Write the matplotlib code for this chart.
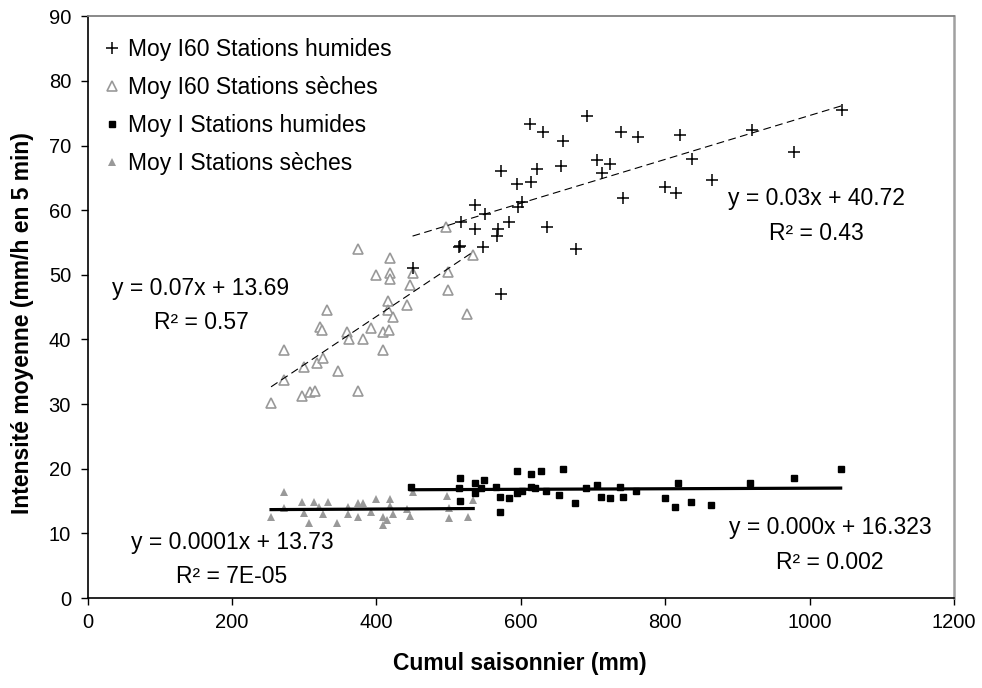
import numpy as np
import matplotlib
matplotlib.use("Agg")
import matplotlib.pyplot as plt

plt.rcParams['font.family'] = ['Liberation Sans', 'DejaVu Sans']

# ---- data (Cumul saisonnier mm, intensité mm/h) ----
i60_hum_x = [1045, 692, 613, 630, 659, 739, 762, 820, 920, 979, 572, 622, 655, 706, 724, 712,
             595, 614, 837, 865, 799, 815, 742, 601, 596, 537, 550, 517, 584, 537, 569, 567,
             636, 516, 514, 547, 677, 572, 450]
i60_hum_y = [75.5, 74.6, 73.3, 72.1, 70.7, 72.1, 71.3, 71.6, 72.4, 69.0, 66.1, 66.4, 66.9, 67.8, 67.2, 65.8,
             64.1, 64.4, 67.9, 64.7, 63.6, 62.7, 61.9, 61.3, 60.5, 60.8, 59.4, 58.2, 58.2, 57.1, 57.1, 56.0,
             57.4, 54.5, 54.3, 54.3, 54.0, 47.1, 51.1]

i60_sec_x = [375, 419, 400, 419, 419, 451, 447, 416, 442, 416, 423, 332, 322, 324, 359, 362, 382, 392,
             409, 418, 409, 272, 272, 300, 318, 326, 347, 297, 308, 315, 375, 254, 497, 534, 499, 499, 526]
i60_sec_y = [54.0, 52.6, 49.9, 50.3, 49.3, 50.3, 48.5, 46.0, 45.4, 44.5, 43.4, 44.6, 42.0, 41.5, 41.1, 40.1, 40.1, 41.8,
             41.1, 41.5, 38.4, 38.4, 33.8, 35.7, 36.4, 37.2, 35.1, 31.2, 31.8, 32.0, 32.0, 30.1, 57.4, 53.0, 50.5, 47.7, 44.0]

i_hum_x = [1043, 978, 918, 817, 658, 628, 614, 594, 549, 536, 516, 514, 516, 536, 545, 566, 571, 571, 584,
           595, 602, 614, 620, 635, 653, 675, 690, 706, 711, 723, 738, 741, 760, 799, 813, 836, 864, 448]
i_hum_y = [20.0, 18.6, 17.8, 17.8, 20.0, 19.7, 19.2, 19.7, 18.3, 17.8, 18.6, 17.0, 15.0, 16.3, 17.0, 17.2, 15.7, 13.3, 15.5,
           16.3, 16.6, 17.2, 17.0, 16.6, 16.0, 14.7, 17.0, 17.5, 15.7, 15.5, 17.2, 15.7, 16.6, 15.5, 14.1, 14.9, 14.4, 17.2]

i_sec_x = [254, 272, 272, 297, 300, 307, 314, 320, 326, 333, 346, 360, 360, 375, 375, 382, 392, 400, 409,
           409, 414, 419, 419, 423, 442, 447, 451, 498, 500, 500, 527, 534]
i_sec_y = [12.6, 16.4, 13.9, 14.9, 13.2, 11.6, 14.9, 14.1, 13.0, 14.9, 11.6, 14.1, 13.0, 14.7, 12.6, 14.7, 13.3, 15.3, 12.6,
           11.3, 12.1, 15.3, 14.3, 13.0, 13.8, 12.7, 16.4, 15.8, 13.9, 12.4, 12.6, 15.2]

labels = ["Moy I60 Stations humides", "Moy I60 Stations sèches",
          "Moy I Stations humides", "Moy I Stations sèches"]
equations = ["y = 0.07x + 13.69\nR² = 0.57", "y = 0.03x + 40.72\nR² = 0.43",
             "y = 0.0001x + 13.73\nR² = 7E-05", "y = 0.000x + 16.323\nR² = 0.002"]
xlabel = "Cumul saisonnier (mm)"
ylabel = "Intensité moyenne (mm/h en 5 min)"
xticks = [0, 200, 400, 600, 800, 1000, 1200]
yticks = [0, 10, 20, 30, 40, 50, 60, 70, 80, 90]

GREY = "#999999"

fig = plt.figure(figsize=(9.82, 6.88), dpi=100)
ax = fig.add_axes([0.0893, 0.1308, 0.8822, 0.8455])


def trend(x, y, **kw):
    x = np.asarray(x, float)
    y = np.asarray(y, float)
    a, b = np.polyfit(x, y, 1)
    xs = np.array([x.min(), x.max()])
    ax.plot(xs, a * xs + b, **kw)


ax.plot(i60_sec_x, i60_sec_y, linestyle='none', marker='^', markersize=7.8,
        markerfacecolor='white', markeredgecolor=GREY, markeredgewidth=1.2, label=labels[1], zorder=3)
ax.plot(i60_hum_x, i60_hum_y, linestyle='none', marker='+', markersize=9,
        color='black', markeredgewidth=1.1, label=labels[0], zorder=4)
ax.plot(i_hum_x, i_hum_y, linestyle='none', marker='s', markersize=4.6,
        color='black', label=labels[2], zorder=4)
ax.plot(i_sec_x, i_sec_y, linestyle='none', marker='^', markersize=6,
        color=GREY, markeredgewidth=0, label=labels[3], zorder=3)

trend(i60_sec_x, i60_sec_y, color='black', linewidth=0.8, dashes=(7, 4), zorder=5)
trend(i60_hum_x, i60_hum_y, color='black', linewidth=0.8, dashes=(7, 4), zorder=5)
trend(i_hum_x, i_hum_y, color='black', linewidth=2.3, zorder=5)
trend(i_sec_x, i_sec_y, color='black', linewidth=2.3, zorder=5)

ax.set_xlim(0, 1200)
ax.set_ylim(0, 90)
ax.set_xticks(xticks)
ax.set_yticks(yticks)
ax.tick_params(axis='both', direction='out', length=5, width=1, labelsize=14.5, color='black')
ax.tick_params(axis='x', pad=6)
ax.tick_params(axis='y', pad=7)

for s in ['left', 'bottom']:
    ax.spines[s].set_color('black')
    ax.spines[s].set_linewidth(1.2)
ax.spines['top'].set_color('#808080')
ax.spines['top'].set_linewidth(1.3)
ax.spines['right'].set_color('#a0a0a0')
ax.spines['right'].set_linewidth(1.8)

ax.set_xlabel(xlabel, fontsize=16.5, fontweight='bold')
ax.set_ylabel(ylabel, fontsize=16.5, fontweight='bold')
ax.xaxis.set_label_coords(0.4985, -0.092)
ax.yaxis.set_label_coords(-0.062, 0.472)

# equation annotations (centre of each two-line block, in data coords)
eq_pos = [(157, 45.3), (1009, 59.1), (200, 5.9), (1028, 8.2)]
for txt, (ex, ey) in zip(equations, eq_pos):
    ax.text(ex, ey, txt, fontsize=16.5, ha='center', va='center',
            multialignment='center', linespacing=1.62)

handles, labs = ax.get_legend_handles_labels()
order = [labs.index(l) for l in labels]
leg = ax.legend([handles[i] for i in order], [labs[i] for i in order],
                loc='upper left', bbox_to_anchor=(0.02, 0.963), frameon=False,
                fontsize=16.5, handlelength=0.6, handletextpad=0.4,
                labelspacing=0.66, borderpad=0, borderaxespad=0)

fig.savefig("out.png", dpi=100)
